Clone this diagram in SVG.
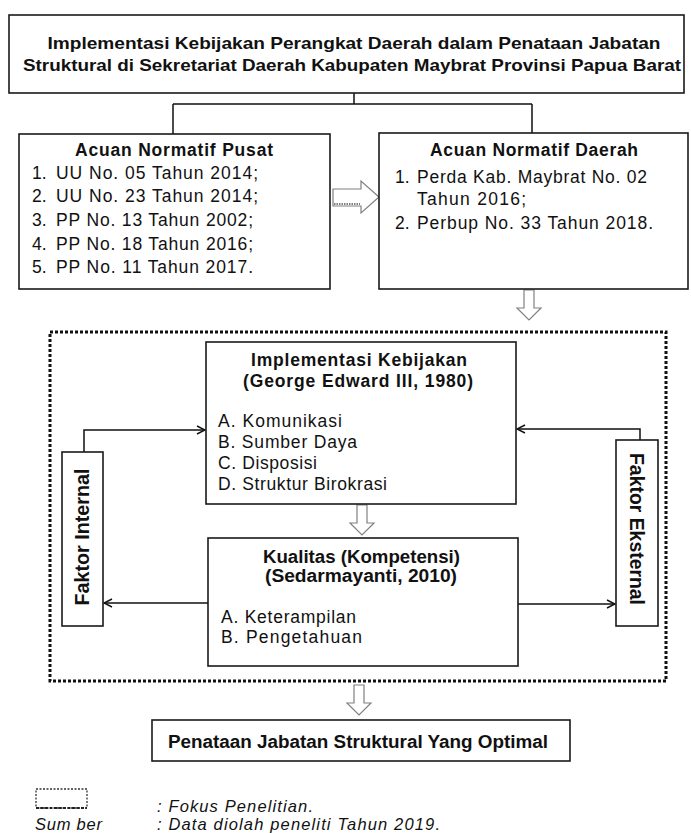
<svg xmlns="http://www.w3.org/2000/svg" width="691" height="833" viewBox="0 0 691 833">
<style>
.box{fill:#fff;stroke:#1a1a1a;stroke-width:1.6}
.t{font-family:"Liberation Sans",Arial,sans-serif;font-size:17.5px;fill:#111}
.b{font-weight:bold}
.c{text-anchor:middle}
.ln{fill:none;stroke:#111;stroke-width:1.5}
.blk{fill:#fff;stroke:#808080;stroke-width:1.2}
.it{font-family:"Liberation Sans",Arial,sans-serif;font-size:16.5px;font-style:italic;fill:#111}
</style>
<defs>
<marker id="ah" viewBox="0 0 10 10" refX="9" refY="5" markerWidth="10" markerHeight="10" markerUnits="userSpaceOnUse" orient="auto">
<path d="M1,1 L9,5 L1,9" fill="none" stroke="#111" stroke-width="1.4"/>
</marker>
</defs>
<rect width="691" height="833" fill="#fff"/>

<g id="focus-area">
<rect x="50" y="332" width="616" height="349" fill="none" stroke="#111" stroke-width="3" stroke-dasharray="3 2"/>
</g>

<g id="connectors">
<path class="ln" d="M354,93 V104 M173,104 H532 M173,104 V134 M532,104 V133"/>
<path class="ln" d="M84,452 V430 H205" marker-end="url(#ah)"/>
<path class="ln" d="M640,440 V429 H517" marker-end="url(#ah)"/>
<path class="ln" d="M208,603 H104" marker-end="url(#ah)"/>
<path class="ln" d="M518,604 H615" marker-end="url(#ah)"/>
<path class="blk" d="M333,189 H361 V181 L379,197 L361,213 V206 H333 Z"/>
<path d="M334,204 H360" stroke="#555" stroke-width="1.5" stroke-dasharray="1.5 1"/>
<path class="blk" d="M524,290 H534 V308 H541 L529,320 L517,308 H524 Z"/>
<path class="blk" d="M357,505 H367 V523 H374 L362,535 L350,523 H357 Z"/>
<path class="blk" d="M354,685 H364 V703 H371 L359,715 L347,703 H354 Z"/>
</g>

<g id="title">
<rect class="box" x="9" y="15" width="675" height="78"/>
<text class="t b c" x="354" y="49" textLength="613" lengthAdjust="spacingAndGlyphs" style="font-size:17px">Implementasi Kebijakan Perangkat Daerah dalam Penataan Jabatan</text>
<text class="t b c" x="352" y="71" textLength="658" lengthAdjust="spacingAndGlyphs" style="font-size:17px">Struktural di Sekretariat Daerah Kabupaten Maybrat Provinsi Papua Barat</text>
</g>

<g id="acuan-pusat">
<rect class="box" x="19" y="134" width="311" height="155"/>
<text class="t b c" x="174" y="156" textLength="198" lengthAdjust="spacing">Acuan Normatif Pusat</text>
<text class="t" x="32" y="179">1.</text>
<text class="t" x="56" y="179" textLength="202" lengthAdjust="spacing">UU No. 05 Tahun 2014;</text>
<text class="t" x="32" y="202">2.</text>
<text class="t" x="56" y="202" textLength="202" lengthAdjust="spacing">UU No. 23 Tahun 2014;</text>
<text class="t" x="32" y="226">3.</text>
<text class="t" x="56" y="226" textLength="197" lengthAdjust="spacing">PP No. 13 Tahun 2002;</text>
<text class="t" x="32" y="250">4.</text>
<text class="t" x="56" y="250" textLength="197" lengthAdjust="spacing">PP No. 18 Tahun 2016;</text>
<text class="t" x="32" y="273">5.</text>
<text class="t" x="56" y="273" textLength="197" lengthAdjust="spacing">PP No. 11 Tahun 2017.</text>
</g>

<g id="acuan-daerah">
<rect class="box" x="379" y="133" width="309" height="156"/>
<text class="t b c" x="534" y="156" textLength="208" lengthAdjust="spacing">Acuan Normatif Daerah</text>
<text class="t" x="395" y="183">1.</text>
<text class="t" x="417" y="183" textLength="230" lengthAdjust="spacing">Perda Kab. Maybrat No. 02</text>
<text class="t" x="417" y="205" textLength="109" lengthAdjust="spacing">Tahun 2016;</text>
<text class="t" x="395" y="229">2.</text>
<text class="t" x="417" y="229" textLength="236" lengthAdjust="spacing">Perbup No. 33 Tahun 2018.</text>
</g>

<g id="implementasi">
<rect class="box" x="206" y="342" width="310" height="162"/>
<text class="t b c" x="359" y="366" textLength="216" lengthAdjust="spacing">Implementasi Kebijakan</text>
<text class="t b c" x="358" y="387" textLength="230" lengthAdjust="spacing">(George Edward III, 1980)</text>
<text class="t" x="218" y="427" textLength="124" lengthAdjust="spacing">A. Komunikasi</text>
<text class="t" x="218" y="448" textLength="139" lengthAdjust="spacing">B. Sumber Daya</text>
<text class="t" x="218" y="469" textLength="99" lengthAdjust="spacing">C. Disposisi</text>
<text class="t" x="218" y="490" textLength="169" lengthAdjust="spacing">D. Struktur Birokrasi</text>
</g>

<g id="kualitas">
<rect class="box" x="208" y="538" width="310" height="128"/>
<text class="t b c" x="361.5" y="563" textLength="197" lengthAdjust="spacingAndGlyphs">Kualitas (Kompetensi)</text>
<text class="t b c" x="361" y="582" textLength="192" lengthAdjust="spacingAndGlyphs">(Sedarmayanti, 2010)</text>
<text class="t" x="221" y="623" textLength="135" lengthAdjust="spacing">A. Keterampilan</text>
<text class="t" x="221" y="643" textLength="141" lengthAdjust="spacing">B. Pengetahuan</text>
</g>

<g id="faktor-internal">
<rect class="box" x="62" y="452" width="41" height="174"/>
<text class="t b c" transform="translate(89,537) rotate(-90)" x="0" y="0" textLength="137" lengthAdjust="spacingAndGlyphs" style="font-size:20px">Faktor Internal</text>
</g>

<g id="faktor-eksternal">
<rect class="box" x="616" y="440" width="42" height="186"/>
<text class="t b c" transform="translate(630,529) rotate(90)" x="0" y="0" textLength="152" lengthAdjust="spacingAndGlyphs" style="font-size:20px">Faktor Eksternal</text>
</g>

<g id="penataan">
<rect class="box" x="152" y="720" width="418" height="41"/>
<text class="t b c" x="358" y="748" textLength="380" lengthAdjust="spacingAndGlyphs" style="font-size:18px">Penataan Jabatan Struktural Yang Optimal</text>
</g>

<g id="legend">
<rect x="36" y="789" width="51" height="19" fill="none" stroke="#333" stroke-width="1.3" stroke-dasharray="2 1.5"/>
<path d="M36,808 H87" stroke="#222" stroke-width="2.2" stroke-dasharray="3 1.5"/>
<text class="it" x="157" y="812" textLength="156" lengthAdjust="spacing">: Fokus Penelitian.</text>
<text class="it" x="35" y="830" textLength="67" lengthAdjust="spacing">Sum ber</text>
<text class="it" x="157" y="830" textLength="283" lengthAdjust="spacing">: Data diolah peneliti Tahun 2019.</text>
</g>
</svg>
